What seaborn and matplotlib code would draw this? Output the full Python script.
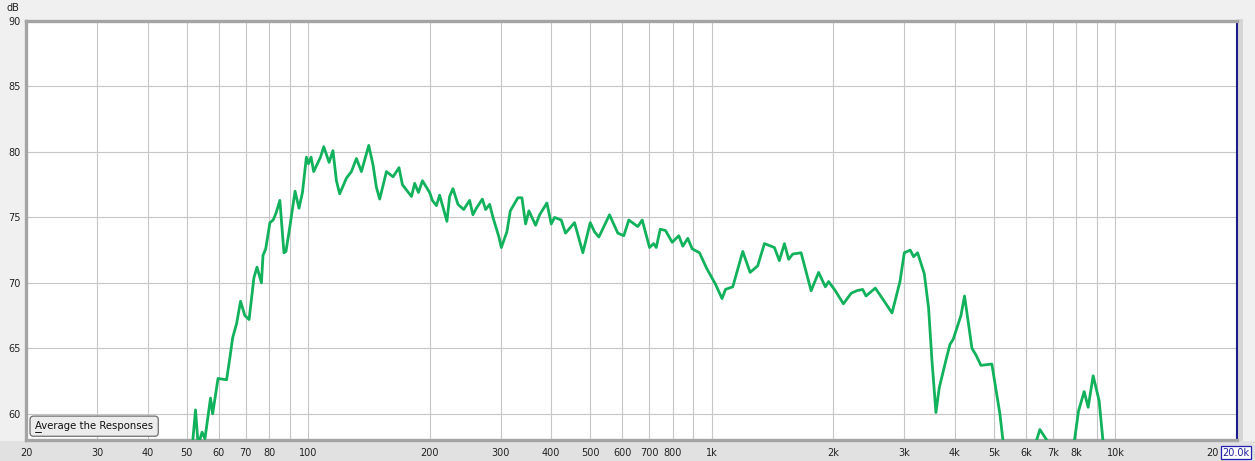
import matplotlib
matplotlib.use('Agg')
import matplotlib.pyplot as plt
import seaborn as sns

# frequency response (Hz, dB)
freq_hz = [20, 35, 45, 51.7, 52.6, 53.4, 54.6, 55.5, 57.3, 58.0, 59.8, 62.8, 64.0, 65.0, 66.5,
           68.0, 69.7, 71.4, 73.4, 74.7, 76.6, 77.3, 78.5, 80.4, 81.9, 83.2, 85.1, 87.1, 88.1,
           90.1, 92.8, 94.9, 96.8, 99.0, 100.2, 101.7, 103.2, 107.3, 109.3, 112.7, 115.2, 117.5,
           119.7, 124.4, 128.0, 131.7, 135.5, 141.3, 144.8, 147.6, 150.4, 156.3, 162.3, 167.9,
           171.2, 180.3, 183.6, 187.6, 191.9, 200.0, 203.1, 207.8, 211.7, 220.7, 224.1, 228.4,
           235.0, 242.8, 251.2, 256.0, 261.0, 270.1, 275.2, 281.6, 287.0, 296.9, 301.0, 310.7,
           316.8, 330.8, 338.5, 345.7, 352.3, 366.0, 374.5, 390.3, 400.2, 407.8, 423.6, 434.1,
           457.0, 479.2, 499.9, 512.2, 525.0, 557.9, 584.9, 605.3, 622.8, 655.6, 672.3, 701.0,
           717.2, 728.3, 745.1, 767.9, 797.7, 828.3, 847.4, 871.9, 894.0, 932.0, 971.4, 1021,
           1060, 1081, 1127, 1193, 1244, 1299, 1350, 1429, 1470, 1513, 1550, 1586, 1664, 1762,
           1839, 1911, 1947, 2023, 2118, 2213, 2285, 2364, 2410, 2541, 2660, 2795, 2925, 2998,
           3102, 3161, 3234, 3360, 3443, 3510, 3591, 3660, 3802, 3890, 3964, 4141, 4227, 4410,
           4511, 4642, 4940, 5172, 5270, 5610, 6110, 6350, 6496, 6823, 7253, 7900, 8097, 8364,
           8557, 8805, 9109, 9320, 10000, 20000]
level_db = [44.0, 48.0, 52.0, 57.7, 60.3, 57.6, 58.6, 58.1, 61.2, 60.0, 62.7, 62.6, 64.3, 65.8, 66.9,
            68.6, 67.5, 67.2, 70.4, 71.2, 70.0, 72.1, 72.6, 74.6, 74.8, 75.3, 76.3, 72.3, 72.4,
            74.3, 77.0, 75.7, 76.9, 79.6, 79.1, 79.6, 78.5, 79.6, 80.4, 79.2, 80.1, 77.8,
            76.8, 78.0, 78.5, 79.5, 78.5, 80.5, 79.0, 77.3, 76.4, 78.5, 78.1, 78.8,
            77.5, 76.6, 77.6, 76.9, 77.8, 76.9, 76.3, 75.9, 76.7, 74.7, 76.6, 77.2,
            76.0, 75.6, 76.3, 75.2, 75.7, 76.4, 75.6, 76.0, 75.0, 73.5, 72.7, 73.9,
            75.5, 76.5, 76.5, 74.5, 75.5, 74.4, 75.2, 76.1, 74.5, 75.0, 74.8, 73.8,
            74.6, 72.3, 74.6, 73.9, 73.5, 75.2, 73.8, 73.6, 74.8, 74.3, 74.8, 72.7,
            73.0, 72.7, 74.1, 74.0, 73.1, 73.6, 72.8, 73.4, 72.6, 72.3, 71.1, 69.9,
            68.8, 69.5, 69.7, 72.4, 70.8, 71.3, 73.0, 72.7, 71.7, 73.0, 71.8, 72.2, 72.3, 69.4,
            70.8, 69.7, 70.1, 69.4, 68.4, 69.2, 69.4, 69.5, 69.0, 69.6, 68.7, 67.7, 70.1, 72.3,
            72.5, 72.0, 72.3, 70.7, 68.1, 64.1, 60.1, 62.0, 64.1, 65.3, 65.7, 67.5, 69.0, 65.0,
            64.5, 63.7, 63.8, 60.0, 57.8, 53.0, 55.5, 57.8, 58.8, 57.8, 55.0, 57.8, 60.2, 61.7,
            60.5, 62.9, 61.0, 57.8, 52.0, 44.0]

tick_pos = [20, 30, 40, 50, 60, 70, 80, 90, 100, 200, 300, 400, 500, 600, 700, 800, 900,
            1000, 2000, 3000, 4000, 5000, 6000, 7000, 8000, 9000, 10000, 20000]
tick_txt = ['20', '30', '40', '50', '60', '70', '80', '', '100', '200', '300', '400', '500',
            '600', '700', '800', '', '1k', '2k', '3k', '4k', '5k', '6k', '7k', '8k', '', '10k', '']
db_ticks = [60, 65, 70, 75, 80, 85, 90]

sns.set_theme(style='white')
plt.rcParams['font.family'] = ['DejaVu Sans']

fig = plt.figure(figsize=(12.55, 4.61), dpi=100, facecolor='#f0f0f0')
ax = fig.add_axes([26 / 1255, 1 - 440 / 461, 1211 / 1255, 419 / 461])
ax.set_facecolor('white')

# darker band under the plot where the frequency labels sit
fig.patches.append(plt.Rectangle((0, 0), 1, 1 - 441 / 461, transform=fig.transFigure,
                                 facecolor='#e1e1e1', edgecolor='none', zorder=-1))
# soft shadow right of the plot
fig.patches.append(plt.Rectangle((1238 / 1255, 1 - 441 / 461), 5 / 1255, 422 / 461,
                                 transform=fig.transFigure, facecolor='#d6d6d6',
                                 edgecolor='none', zorder=-1))

sns.lineplot(x=freq_hz, y=level_db, ax=ax, color='#12b25c', linewidth=2.0, zorder=3)

ax.set_xscale('log')
ax.set_xlim(20, 20000)
ax.set_ylim(58, 90)
ax.set_xticks(tick_pos)
ax.set_xticklabels(tick_txt)
ax.xaxis.set_minor_locator(matplotlib.ticker.NullLocator())
ax.set_yticks(db_ticks)
ax.tick_params(axis='both', length=0, labelsize=7, colors='#222222')
ax.tick_params(axis='x', pad=6)
ax.tick_params(axis='y', pad=4)
ax.grid(True, color='#c6c6c6', linewidth=0.8)
ax.set_xlabel('')
ax.set_ylabel('')

for side in ['top', 'left', 'bottom']:
    ax.spines[side].set_color('#a4a4a4')
    ax.spines[side].set_linewidth(2.4)
ax.spines['right'].set_color('#1c1c8a')
ax.spines['right'].set_linewidth(1.5)

fig.text(13 / 1255, 1 - 8 / 461, 'dB', fontsize=7, ha='center', va='center', color='#222222')

# last frequency label, half hidden by the cursor readout in the reference
fig.text(1219 / 1255, 1 - 452.5 / 461, '20', fontsize=7, ha='right', va='center',
         color='#222222')
# cursor readout at the right end of the frequency axis
fig.text(1236 / 1255, 1 - 452.5 / 461, '20.0k', fontsize=7, ha='center', va='center',
         color='#1c1c9a', zorder=10,
         bbox=dict(boxstyle='square,pad=0.15', facecolor='white', edgecolor='#2020b0', linewidth=0.9))

# button in the lower left corner
ax.text(0.0075, 0.033, 'Average the Responses', transform=ax.transAxes, fontsize=7.3,
        ha='left', va='center', color='#111111', zorder=5,
        bbox=dict(boxstyle='round,pad=0.5,rounding_size=0.35', facecolor='#ececec',
                  edgecolor='#6e6e6e', linewidth=0.9))
ax.plot([0.0077, 0.0127], [0.0195, 0.0195], transform=ax.transAxes, color='#111111',
        linewidth=0.7, zorder=6)

fig.savefig('out.png', dpi=100, facecolor=fig.get_facecolor())
